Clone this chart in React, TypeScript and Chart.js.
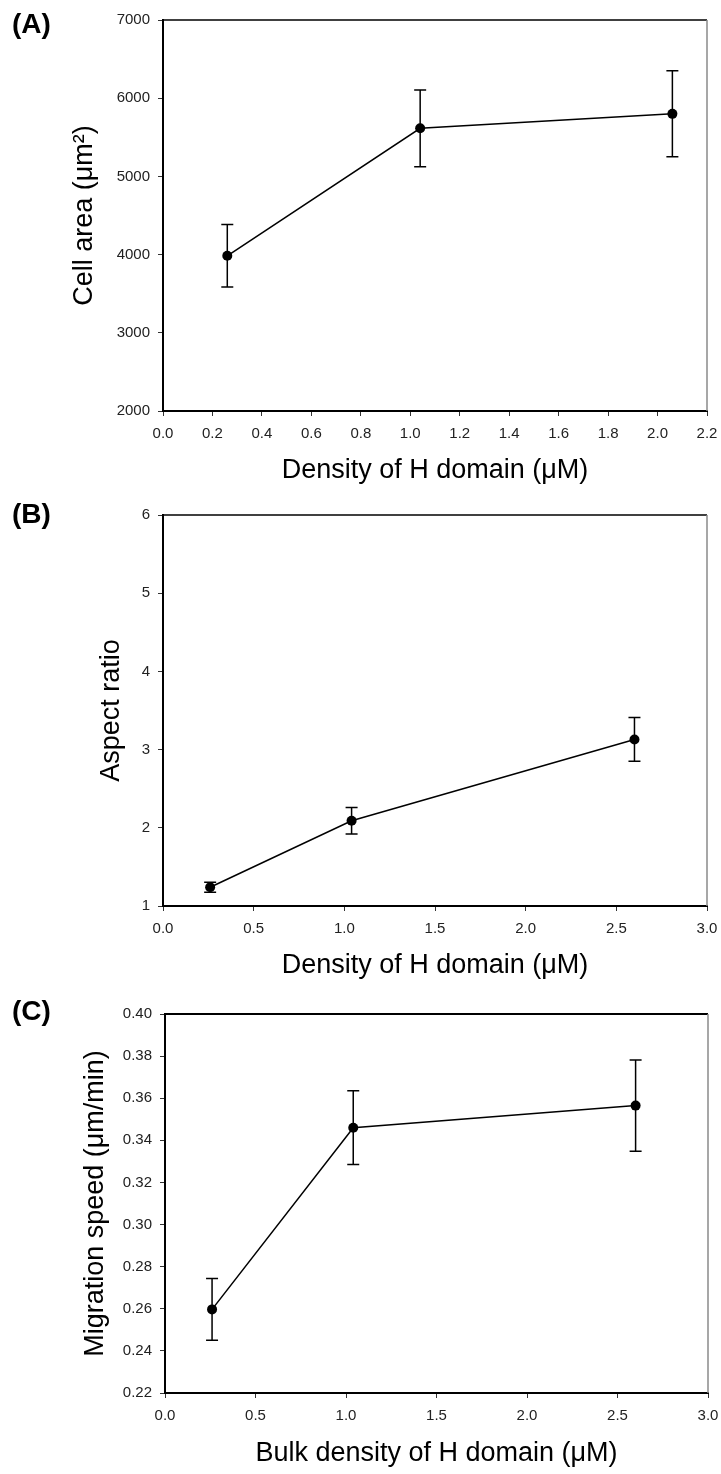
import React, { useEffect, useRef } from 'react';
import { Chart, registerables } from 'chart.js';

Chart.register(...registerables);
Chart.defaults.font.family = '"Liberation Sans", Arial, Helvetica, sans-serif';

// ---------- Data ----------
// Panel A: cell area
const xA = [0.26, 1.04, 2.06];
const yA = [3985, 5615, 5800];
const errA = [400, 490, 550];
const xTicksA = [0.0, 0.2, 0.4, 0.6, 0.8, 1.0, 1.2, 1.4, 1.6, 1.8, 2.0, 2.2];
const yTicksA = [2000, 3000, 4000, 5000, 6000, 7000];

// Panel B: aspect ratio
const xB = [0.26, 1.04, 2.6];
const yB = [1.24, 2.09, 3.13];
const errB = [0.065, 0.17, 0.28];
const xTicksB = [0.0, 0.5, 1.0, 1.5, 2.0, 2.5, 3.0];
const yTicksB = [1, 2, 3, 4, 5, 6];

// Panel C: migration speed
const xC = [0.26, 1.04, 2.6];
const yC = [0.2597, 0.346, 0.3565];
const errC = [0.0147, 0.0175, 0.0217];
const xTicksC = [0.0, 0.5, 1.0, 1.5, 2.0, 2.5, 3.0];
const yTicksC = [0.22, 0.24, 0.26, 0.28, 0.3, 0.32, 0.34, 0.36, 0.38, 0.4];

const PAGE_W = 721;

type PanelDef = {
  label: string;
  top: number;
  height: number;
  area: { left: number; right: number; top: number; bottom: number };
  xs: number[];
  ys: number[];
  errs: number[];
  xTicks: number[];
  yTicks: number[];
  xDec: number;
  yDec: number;
  xTitle: string;
  yTitle: string;
  yTitleMid: number;
  xTitleMid: number;
  labelMid: number;
  topLineWidth: number;
};

const panels: PanelDef[] = [
  {
    label: '(A)', top: 0, height: 495,
    area: { left: 163, right: 707, top: 20, bottom: 411 },
    xs: xA, ys: yA, errs: errA, xTicks: xTicksA, yTicks: yTicksA, xDec: 1, yDec: 0,
    xTitle: 'Density of H domain (\u03bcM)', yTitle: 'Cell area (\u03bcm\u00b2)',
    yTitleMid: 85, xTitleMid: 470.5, labelMid: 26, topLineWidth: 1.5,
  },
  {
    label: '(B)', top: 495, height: 495,
    area: { left: 163, right: 707, top: 515, bottom: 906 },
    xs: xB, ys: yB, errs: errB, xTicks: xTicksB, yTicks: yTicksB, xDec: 1, yDec: 0,
    xTitle: 'Density of H domain (\u03bcM)', yTitle: 'Aspect ratio',
    yTitleMid: 112, xTitleMid: 966, labelMid: 516, topLineWidth: 1.5,
  },
  {
    label: '(C)', top: 990, height: 484,
    area: { left: 165, right: 708, top: 1014, bottom: 1393 },
    xs: xC, ys: yC, errs: errC, xTicks: xTicksC, yTicks: yTicksC, xDec: 1, yDec: 2,
    xTitle: 'Bulk density of H domain (\u03bcM)', yTitle: 'Migration speed (\u03bcm/min)',
    yTitleMid: 96, xTitleMid: 1454, labelMid: 1013, topLineWidth: 2,
  },
];

const TITLE_SIZE = 27;
const TITLE_HALF = (TITLE_SIZE * 1.2) / 2;

function Panel({ p }: { p: PanelDef }) {
  const ref = useRef<HTMLCanvasElement | null>(null);

  useEffect(() => {
    const canvas = ref.current;
    if (!canvas) return;

    const errorBars = {
      id: 'errorBars',
      beforeDatasetsDraw(chart: any) {
        const { ctx, scales } = chart;
        const sx = scales.x;
        const sy = scales.y;
        ctx.save();
        ctx.strokeStyle = '#000';
        ctx.lineWidth = 1.5;
        p.xs.forEach((xv, i) => {
          const px = sx.getPixelForValue(xv);
          const t = sy.getPixelForValue(p.ys[i] + p.errs[i]);
          const b = sy.getPixelForValue(p.ys[i] - p.errs[i]);
          ctx.beginPath();
          ctx.moveTo(px, t);
          ctx.lineTo(px, b);
          ctx.moveTo(px - 6, t);
          ctx.lineTo(px + 6, t);
          ctx.moveTo(px - 6, b);
          ctx.lineTo(px + 6, b);
          ctx.stroke();
        });
        ctx.restore();
      },
    };

    const frame = {
      id: 'frame',
      afterDraw(chart: any) {
        const { ctx, chartArea } = chart;
        ctx.save();
        ctx.strokeStyle = '#000';
        ctx.lineWidth = p.topLineWidth;
        ctx.beginPath();
        ctx.moveTo(chartArea.left, chartArea.top);
        ctx.lineTo(chartArea.right, chartArea.top);
        ctx.stroke();
        ctx.strokeStyle = '#8a8a8a';
        ctx.lineWidth = 1.5;
        ctx.beginPath();
        ctx.moveTo(chartArea.right, chartArea.top);
        ctx.lineTo(chartArea.right, chartArea.bottom);
        ctx.stroke();
        ctx.restore();
      },
    };

    const xHeight = p.top + p.height - p.area.bottom;
    const xTitlePad = p.height - TITLE_HALF - (p.xTitleMid - p.top);
    const yTitlePad = p.yTitleMid - TITLE_HALF;

    const chart = new Chart(canvas, {
      type: 'scatter',
      data: {
        datasets: [
          {
            data: p.xs.map((x, i) => ({ x, y: p.ys[i] })),
            showLine: true,
            borderColor: '#000',
            borderWidth: 1.5,
            backgroundColor: '#000',
            pointBackgroundColor: '#000',
            pointBorderWidth: 0,
            pointRadius: 5,
            pointHoverRadius: 5,
          },
        ],
      },
      plugins: [errorBars, frame],
      options: {
        responsive: false,
        animation: false,
        events: [],
        layout: {
          padding: {
            top: p.area.top - p.top,
            right: PAGE_W - p.area.right,
            left: 0,
            bottom: 0,
          },
        },
        plugins: {
          legend: { display: false },
          tooltip: { enabled: false },
        },
        scales: {
          x: {
            type: 'linear',
            min: p.xTicks[0],
            max: p.xTicks[p.xTicks.length - 1],
            afterBuildTicks: (s: any) => {
              s.ticks = p.xTicks.map((v) => ({ value: v }));
            },
            afterFit: (s: any) => {
              s.height = xHeight;
              s.paddingLeft = 0;
              s.paddingRight = 0;
            },
            ticks: {
              autoSkip: false,
              maxRotation: 0,
              padding: 9,
              color: '#222',
              font: { size: 15 },
              callback: (v: any) => Number(v).toFixed(p.xDec),
            },
            grid: {
              drawOnChartArea: false,
              drawTicks: true,
              tickLength: 5,
              color: '#333',
              lineWidth: 1,
            },
            border: { display: true, color: '#000', width: 2 },
            title: {
              display: true,
              text: p.xTitle,
              color: '#000',
              font: { size: TITLE_SIZE },
              padding: { top: 0, bottom: xTitlePad },
            },
          },
          y: {
            type: 'linear',
            min: p.yTicks[0],
            max: p.yTicks[p.yTicks.length - 1],
            afterBuildTicks: (s: any) => {
              s.ticks = p.yTicks.map((v) => ({ value: v }));
            },
            afterFit: (s: any) => {
              s.width = p.area.left;
              s.paddingTop = 0;
              s.paddingBottom = 0;
            },
            ticks: {
              autoSkip: false,
              padding: 8,
              color: '#222',
              font: { size: 15 },
              callback: (v: any) => Number(v).toFixed(p.yDec),
            },
            grid: {
              drawOnChartArea: false,
              drawTicks: true,
              tickLength: 5,
              color: '#333',
              lineWidth: 1,
            },
            border: { display: true, color: '#000', width: 2 },
            title: {
              display: true,
              text: p.yTitle,
              color: '#000',
              font: { size: TITLE_SIZE },
              padding: { top: yTitlePad, bottom: 0 },
            },
          },
        },
      },
    } as any);

    return () => chart.destroy();
  }, [p]);

  return (
    <>
      <canvas
        ref={ref}
        width={PAGE_W}
        height={p.height}
        style={{ position: 'absolute', left: 0, top: p.top, width: PAGE_W, height: p.height }}
      />
      <div
        style={{
          position: 'absolute',
          left: 12,
          top: p.labelMid - 16.4,
          fontFamily: '"Liberation Sans", Arial, sans-serif',
          fontWeight: 'bold',
          fontSize: 28,
          lineHeight: '28px',
          color: '#000',
          whiteSpace: 'nowrap',
        }}
      >
        {p.label}
      </div>
    </>
  );
}

export default function App() {
  return (
    <div
      style={{
        position: 'absolute',
        left: 0,
        top: 0,
        width: PAGE_W,
        height: 1474,
        background: '#fff',
        overflow: 'hidden',
      }}
    >
      {panels.map((p) => (
        <Panel key={p.label} p={p} />
      ))}
    </div>
  );
}
